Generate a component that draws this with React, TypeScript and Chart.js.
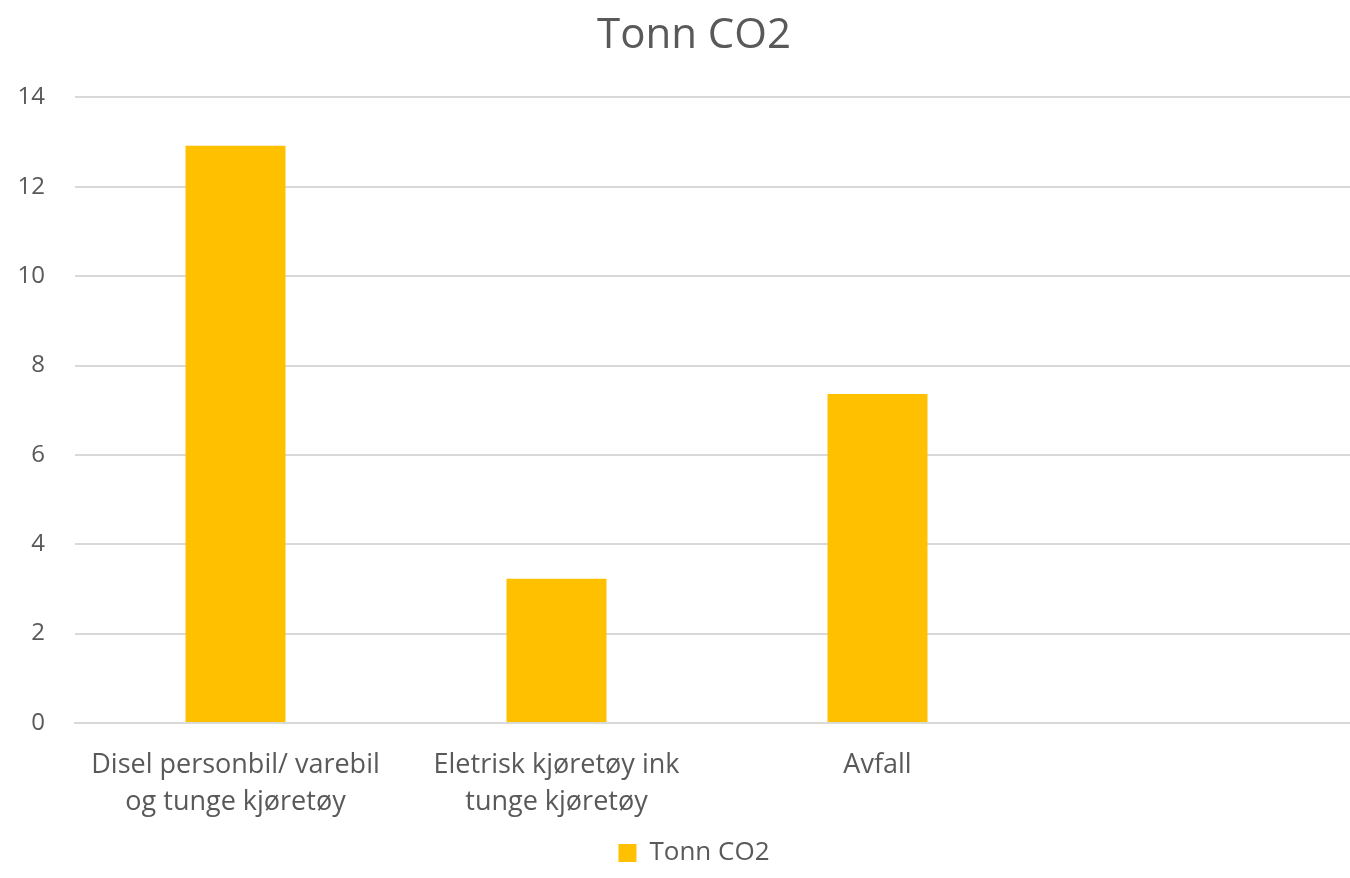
import React, { useEffect, useRef } from "react";
import { Chart, registerables } from "chart.js";

Chart.register(...registerables);

const categories: (string | string[])[] = [
  ["Disel personbil/ varebil", "og tunge kjøretøy"],
  ["Eletrisk kjøretøy ink", "tunge kjøretøy"],
  "Avfall",
  "",
];
const seriesName = "Tonn CO2";
const values: (number | null)[] = [12.92, 3.23, 7.36, null];
const yTicks = [0, 2, 4, 6, 8, 10, 12, 14];

const TEXT = "#595959";
const FONT = "'Open Sans', 'Liberation Sans', sans-serif";

export default function App() {
  const ref = useRef<HTMLCanvasElement | null>(null);
  useEffect(() => {
    document.body.style.margin = "0";
    document.body.style.overflow = "hidden";
    const chart = new Chart(ref.current!, {
      type: "bar",
      data: {
        labels: categories,
        datasets: [
          {
            label: seriesName,
            data: values,
            backgroundColor: "#FFC000",
            borderWidth: 0,
            categoryPercentage: 1,
            barPercentage: 0.3115,
          },
        ],
      },
      options: {
        animation: false,
        responsive: false,
        maintainAspectRatio: false,
        layout: { padding: { left: 0, right: 0, top: 0, bottom: 2 } },
        plugins: {
          title: {
            display: true,
            text: seriesName,
            color: TEXT,
            font: { family: FONT, size: 42, weight: "normal" },
            padding: { top: 11, bottom: 36 },
          },
          legend: {
            position: "bottom",
            labels: {
              color: TEXT,
              font: { family: FONT, size: 26 },
              boxWidth: 18,
              boxHeight: 18,
              padding: 4,
            },
          },
          tooltip: { enabled: false },
        },
        scales: {
          x: {
            grid: { display: false, drawTicks: false },
            border: { color: "#D9D9D9", width: 2 },
            ticks: {
              color: TEXT,
              font: { family: FONT, size: 27, lineHeight: 1.37 },
              maxRotation: 0,
              autoSkip: false,
              padding: 24,
            },
            afterFit: (s: any) => {
              s.height = 113;
            },
          },
          y: {
            min: 0,
            max: 14,
            afterBuildTicks: (s: any) => {
              s.ticks = yTicks.map((v) => ({ value: v }));
            },
            grid: { color: "#D9D9D9", lineWidth: 2, drawTicks: false },
            border: { display: false },
            ticks: {
              color: TEXT,
              font: { family: FONT, size: 24 },
              padding: 30,
            },
            afterFit: (s: any) => {
              s.width = 75;
            },
          },
          yRight: {
            type: "linear",
            position: "right",
            display: true,
            grid: { display: false, drawTicks: false },
            border: { display: false },
            ticks: { display: false },
            afterFit: (s: any) => {
              s.width = 29;
            },
          },
        },
      },
    });
    return () => chart.destroy();
  }, []);
  return <canvas ref={ref} width={1388} height={878} style={{ display: "block" }} />;
}
